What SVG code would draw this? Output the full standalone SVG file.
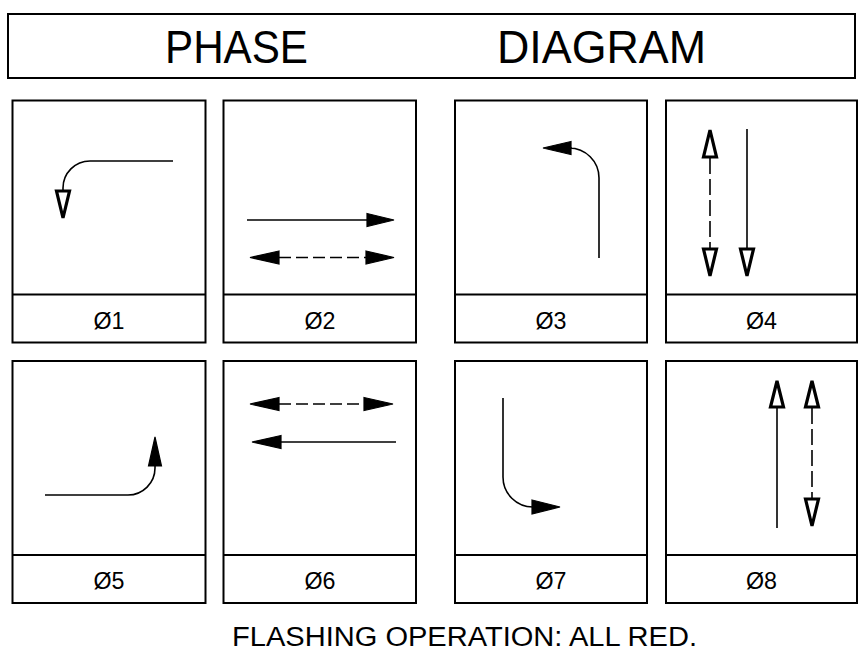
<svg xmlns="http://www.w3.org/2000/svg" width="862" height="669" viewBox="0 0 862 669">
<style>
.box{fill:none;stroke:#000;stroke-width:2}
.div{stroke:#000;stroke-width:2}
.ln{fill:none;stroke:#000;stroke-width:1.6}
.dash{fill:none;stroke:#000;stroke-width:1.6;stroke-dasharray:12 5}
.solid{fill:#000;stroke:#000;stroke-width:1.2;stroke-linejoin:miter}
.hollow{fill:#fff;stroke:#000;stroke-width:3.2;stroke-linejoin:miter}
.lbl{font-family:"Liberation Sans",Arial,sans-serif;font-size:24px;fill:#000;text-anchor:middle}
.title{font-family:"Liberation Sans",Arial,sans-serif;font-size:46px;fill:#000}
.note{font-family:"Liberation Sans",Arial,sans-serif;font-size:27px;fill:#000}
</style>
<rect width="862" height="669" fill="#fff"/>
<g id="title">
<rect class="box" x="8" y="14" width="847" height="64"/>
<text class="title" x="165" y="63" textLength="143" lengthAdjust="spacingAndGlyphs">PHASE</text>
<text class="title" x="497" y="63" textLength="209" lengthAdjust="spacingAndGlyphs">DIAGRAM</text>
</g>
<g id="phase1">
<rect class="box" x="12.5" y="100.5" width="193" height="242"/>
<line class="div" x1="12.5" y1="294.5" x2="205.5" y2="294.5"/>
<text class="lbl" x="109" y="329" textLength="31" lengthAdjust="spacingAndGlyphs">Ø1</text>
</g>
<g id="phase2">
<rect class="box" x="223.5" y="100.5" width="192.5" height="242"/>
<line class="div" x1="223.5" y1="294.5" x2="416" y2="294.5"/>
<text class="lbl" x="320" y="329" textLength="31" lengthAdjust="spacingAndGlyphs">Ø2</text>
</g>
<g id="phase3">
<rect class="box" x="455" y="100.5" width="192" height="242"/>
<line class="div" x1="455" y1="294.5" x2="647" y2="294.5"/>
<text class="lbl" x="551" y="329" textLength="31" lengthAdjust="spacingAndGlyphs">Ø3</text>
</g>
<g id="phase4">
<rect class="box" x="666" y="100.5" width="191" height="242"/>
<line class="div" x1="666" y1="294.5" x2="857" y2="294.5"/>
<text class="lbl" x="761.5" y="329" textLength="31" lengthAdjust="spacingAndGlyphs">Ø4</text>
</g>
<g id="phase5">
<rect class="box" x="12.5" y="361" width="193" height="242"/>
<line class="div" x1="12.5" y1="555" x2="205.5" y2="555"/>
<text class="lbl" x="109" y="589" textLength="31" lengthAdjust="spacingAndGlyphs">Ø5</text>
</g>
<g id="phase6">
<rect class="box" x="223.5" y="361" width="192.5" height="242"/>
<line class="div" x1="223.5" y1="555" x2="416" y2="555"/>
<text class="lbl" x="320" y="589" textLength="31" lengthAdjust="spacingAndGlyphs">Ø6</text>
</g>
<g id="phase7">
<rect class="box" x="455" y="361" width="192" height="242"/>
<line class="div" x1="455" y1="555" x2="647" y2="555"/>
<text class="lbl" x="551" y="589" textLength="31" lengthAdjust="spacingAndGlyphs">Ø7</text>
</g>
<g id="phase8">
<rect class="box" x="666" y="361" width="191" height="242"/>
<line class="div" x1="666" y1="555" x2="857" y2="555"/>
<text class="lbl" x="761.5" y="589" textLength="31" lengthAdjust="spacingAndGlyphs">Ø8</text>
</g>
<g id="connectors">
<!-- phase 1 -->
<path class="ln" d="M173,161 H90 A27,27 0 0 0 63,188 V191"/>
<polygon class="hollow" points="56.5,191 69.5,191 63,218"/>
<!-- phase 2 -->
<path class="ln" d="M247,220 H368"/>
<polygon class="solid" points="367,213.5 394,220 367,226.5"/>
<path class="dash" d="M279,257.5 H366"/>
<polygon class="solid" points="279,251 250,257.5 279,264"/>
<polygon class="solid" points="366,251 394,257.5 366,264"/>
<!-- phase 3 -->
<path class="ln" d="M599,258 V178 A30,30 0 0 0 569,148 H572"/>
<polygon class="solid" points="571,141.5 543,148 571,154.5"/>
<!-- phase 4 -->
<path class="dash" d="M710,158 V248" style="stroke-dasharray:16 5"/>
<polygon class="hollow" points="703.5,157 716.5,157 710,130"/>
<polygon class="hollow" points="703.5,249 716.5,249 710,276"/>
<path class="ln" d="M747,129 V249"/>
<polygon class="hollow" points="740.5,249 753.5,249 747,276"/>
<!-- phase 5 -->
<path class="ln" d="M45,495 H128 A27,27 0 0 0 155,468 V465"/>
<polygon class="solid" points="148.5,466 161.5,466 155,437"/>
<!-- phase 6 -->
<path class="dash" d="M279,404 H364"/>
<polygon class="solid" points="279,397.5 250,404 279,410.5"/>
<polygon class="solid" points="364,397.5 393,404 364,410.5"/>
<path class="ln" d="M281,442 H396"/>
<polygon class="solid" points="281,435.5 252,442 281,448.5"/>
<!-- phase 7 -->
<path class="ln" d="M503,398 V477 A30,30 0 0 0 533,507"/>
<polygon class="solid" points="532,500 560,507 532,514"/>
<!-- phase 8 -->
<path class="ln" d="M777,528 V407"/>
<polygon class="hollow" points="770.5,407 783.5,407 777,381"/>
<path class="dash" d="M812,408 V498" style="stroke-dasharray:16 5"/>
<polygon class="hollow" points="805.5,407 818.5,407 812,381"/>
<polygon class="hollow" points="805.5,499 818.5,499 812,526"/>
</g>
<g id="footer">
<text class="note" x="232" y="646" textLength="465" lengthAdjust="spacingAndGlyphs">FLASHING OPERATION: ALL RED.</text>
</g>
</svg>
